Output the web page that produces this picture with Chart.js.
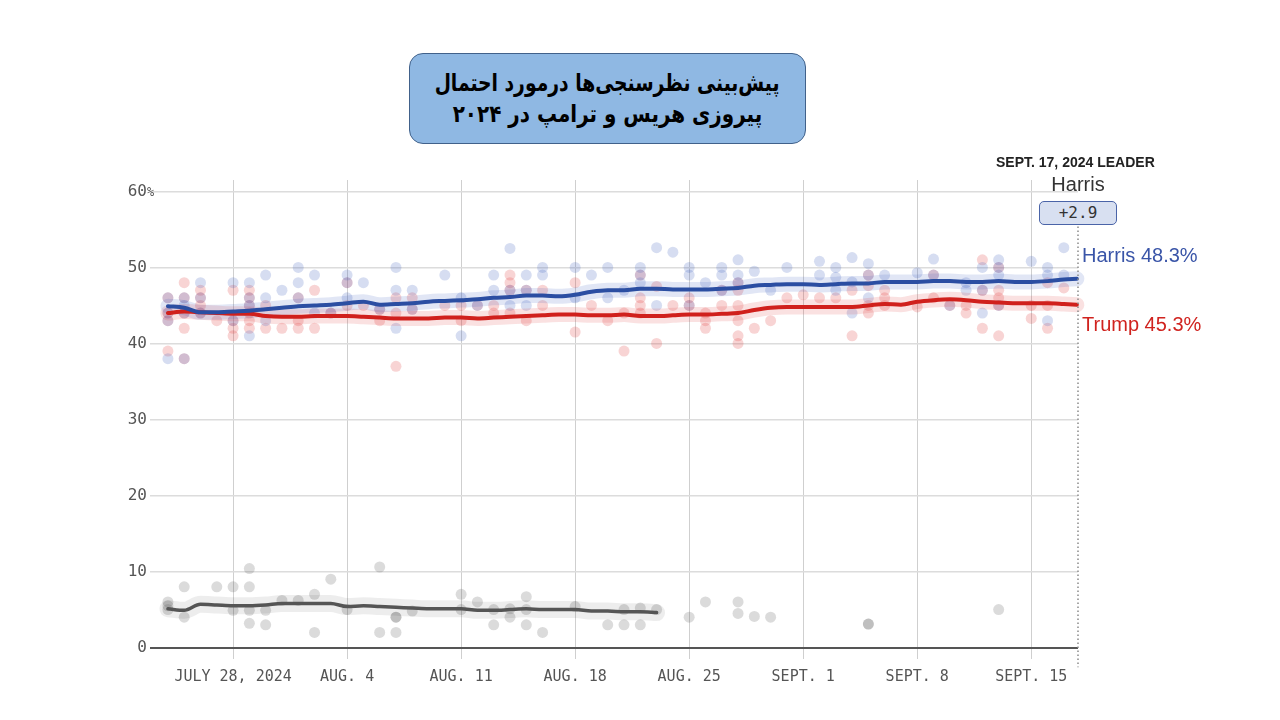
<!DOCTYPE html>
<html lang="fa">
<head>
<meta charset="UTF-8">
<title>Harris - Trump polls 2024</title>
<style>
  body { margin: 0; background: #fff; }
  #wrap { position: relative; width: 1280px; height: 720px; overflow: hidden; }
  #polls { position: absolute; left: 0; top: 0; }
  .title {
    position: absolute; left: 409px; top: 53px; width: 395px; height: 89px;
    background: #8fb8e3; border: 1.5px solid #41618a; border-radius: 14px;
    display: flex; flex-direction: column; justify-content: center; align-items: center;
    font-family: "DejaVu Sans", sans-serif; font-weight: bold; font-size: 24px;
    line-height: 31px; color: #000; text-align: center; white-space: nowrap;
  }
  .title .l1 { transform: scaleX(0.78); }
  .title .l2 { transform: scaleX(0.83); }
  .txt { position: absolute; white-space: nowrap; font-family: "Liberation Sans", Arial, sans-serif; }
  #leaderHead { left: 996px; top: 154px; font-size: 14px; font-weight: bold; color: #222; line-height: 16px; }
  #leaderName { left: 1078px; top: 173px; transform: translateX(-50%); font-size: 20px; color: #333; line-height: 22px; }
  #margin {
    position: absolute; left: 1039px; top: 201px; width: 76px; height: 22px;
    background: #d8e0f1; border: 1.5px solid #4a64a8; border-radius: 5px;
    font-family: "DejaVu Sans Mono", monospace; font-size: 16px; line-height: 22px;
    color: #333; text-align: center;
  }
  #harrisLbl { left: 1082px; top: 244px; font-size: 20px; color: #3a55a8; line-height: 22px; }
  #trumpLbl { left: 1082px; top: 313px; font-size: 20px; color: #d0231f; line-height: 22px; }
</style>
</head>
<body>
<div id="wrap">
  <canvas id="polls" width="1280" height="720"></canvas>
  <div class="title" dir="rtl"><div class="l1">پیش‌بینی نظرسنجی‌ها درمورد احتمال</div><div class="l2">پیروزی هریس و ترامپ در ۲۰۲۴</div></div>
  <div class="txt" id="leaderHead">SEPT. 17, 2024 LEADER</div>
  <div class="txt" id="leaderName">Harris</div>
  <div id="margin">+2.9</div>
  <div class="txt" id="harrisLbl">Harris 48.3%</div>
  <div class="txt" id="trumpLbl">Trump 45.3%</div>
</div>

<script src="https://cdn.jsdelivr.net/npm/chart.js@4.4.0/dist/chart.umd.min.js"></script>
<script>
// days counted from July 28, 2024 (day 0)
const tickDays = [0, 7, 14, 21, 28, 35, 42, 49];
const tickLabels = ["JULY 28, 2024", "AUG. 4", "AUG. 11", "AUG. 18", "AUG. 25", "SEPT. 1", "SEPT. 8", "SEPT. 15"];
const yTicks = [0, 10, 20, 30, 40, 50, 60];
const leaderDay = 51.87;

// individual polls: [day, value]
const harrisPolls = [
    [-4, 46], [-4, 44], [-4, 43], [-4, 38], [-3, 46], [-3, 45], [-3, 44], [-3, 38],
    [-2, 48], [-2, 46], [-2, 44], [0, 48], [0, 43], [1, 48], [1, 46], [1, 45], [1, 41],
    [2, 49], [2, 46], [2, 43], [3, 47], [4, 50], [4, 48], [4, 46], [5, 49], [5, 44], [6, 44],
    [7, 49], [7, 48], [7, 46], [8, 48], [9, 44.5], [10, 50], [10, 47], [10, 42], [11, 47], [11, 44.5],
    [13, 49], [14, 46], [14, 41], [15, 45], [16, 49], [16, 47], [17, 52.5], [17, 47], [17, 45],
    [18, 49], [18, 47], [18, 45], [19, 50], [19, 49], [21, 50], [21, 46], [22, 49], [23, 50], [23, 46],
    [24, 47], [25, 50], [25, 49], [25, 48], [26, 52.6], [26, 45], [27, 52], [28, 50], [28, 49], [28, 45],
    [29, 48], [30, 50], [30, 49], [30, 47], [31, 51], [31, 49], [31, 48], [32, 49.5], [33, 47], [34, 50],
    [36, 50.8], [36, 49], [37, 50], [37, 48.7], [37, 47], [38, 51.3], [38, 48.1], [38, 44],
    [39, 50.5], [39, 49], [39, 46], [40, 49], [42, 49.3], [43, 51.1], [43, 49], [44, 45], [45, 48], [45, 47],
    [46, 50], [46, 47], [46, 44], [47, 51], [47, 50], [47, 49], [47, 45], [49, 50.8],
    [50, 50], [50, 49], [50, 43], [51, 52.6], [51, 49]
];
const trumpPolls = [
    [-4, 46], [-4, 44], [-4, 43], [-4, 39], [-3, 48], [-3, 46], [-3, 44], [-3, 42], [-3, 38],
    [-2, 47], [-2, 46], [-2, 45], [-2, 44], [-1, 43], [0, 47], [0, 43], [0, 42], [0, 41],
    [1, 47], [1, 46], [1, 45], [1, 44], [1, 43], [1, 42], [2, 45], [2, 42], [3, 42], [4, 46], [4, 43], [4, 42],
    [5, 47], [5, 42], [6, 44], [7, 48], [7, 45], [8, 45], [9, 44.5], [9, 43], [10, 46], [10, 44], [10, 37],
    [11, 46], [11, 44.5], [13, 45], [14, 45], [14, 43], [15, 45], [16, 45], [16, 44],
    [17, 49], [17, 48], [17, 47], [17, 44], [18, 47], [18, 43], [19, 47], [19, 45], [21, 48], [21, 41.5],
    [22, 45], [23, 43], [24, 44], [24, 39], [25, 49], [25, 46], [25, 45], [25, 44], [26, 47.5], [26, 40],
    [27, 45], [28, 46], [28, 45], [29, 44], [29, 43], [29, 42], [30, 47], [30, 45],
    [31, 48], [31, 47], [31, 45], [31, 43], [31, 41], [31, 40], [32, 42], [33, 43], [34, 46], [35, 46.4],
    [36, 46], [37, 46], [38, 47], [38, 41], [39, 49], [39, 47.6], [39, 45], [39, 44], [40, 47], [40, 46], [40, 45],
    [42, 44.8], [43, 49], [43, 46], [44, 45], [45, 45], [45, 44], [46, 51], [46, 47], [46, 42],
    [47, 50], [47, 47], [47, 46], [47, 45], [47, 41], [49, 45], [49, 43.3], [50, 48], [50, 45], [50, 42], [51, 47.3]
];
const otherPolls = [
    [-4, 6], [-4, 5.5], [-4, 5], [-3, 8], [-3, 4], [-1, 8], [0, 8], [0, 4.9], [1, 10.4], [1, 8], [1, 4.9], [1, 3.2],
    [2, 4.9], [2, 3], [3, 6.2], [4, 6.2], [5, 7], [5, 2], [6, 9], [7, 5], [9, 10.6], [9, 2], [10, 4], [10, 4], [10, 2],
    [11, 4.8], [14, 7], [14, 5], [15, 6], [16, 5], [16, 3], [17, 5.1], [17, 4], [18, 6.7], [18, 5], [18, 3], [19, 2],
    [21, 5.4], [23, 3], [24, 5], [24, 3], [25, 5.2], [25, 3], [26, 5], [28, 4], [29, 6], [31, 6], [31, 4.5],
    [32, 4.1], [33, 4], [39, 3.1], [39, 3.1], [47, 5]
];

// polling averages
const trendDays = [-4, -3, -2, -1, 0, 1, 2, 3, 4, 5, 6, 7, 8, 9, 10, 11, 12, 13, 14, 15, 16, 17, 18, 19, 20,
    21, 22, 23, 24, 25, 26, 27, 28, 29, 30, 31, 32, 33, 34, 35, 36, 37, 38, 39, 40, 41, 42, 43, 44, 45, 46,
    47, 48, 49, 50, 51, 51.8];
const harrisTrend = [44.9, 44.7, 44.1, 44.1, 44.2, 44.3, 44.5, 44.7, 44.9, 45.0, 45.1, 45.3, 45.5, 45.1, 45.2,
    45.3, 45.5, 45.6, 45.7, 45.8, 46.0, 46.1, 46.3, 46.3, 46.2, 46.4, 46.8, 47.0, 47.0, 47.2, 47.2, 47.1, 47.1,
    47.1, 47.2, 47.3, 47.6, 47.7, 47.8, 47.8, 47.7, 47.8, 47.9, 47.9, 48.1, 48.1, 48.1, 48.2, 48.2, 48.1, 48.1,
    48.2, 48.1, 48.1, 48.2, 48.4, 48.5];
const trumpTrend = [44.0, 44.2, 44.1, 44.0, 43.9, 43.9, 43.6, 43.5, 43.5, 43.6, 43.6, 43.6, 43.5, 43.4, 43.3,
    43.3, 43.3, 43.4, 43.4, 43.3, 43.4, 43.5, 43.6, 43.7, 43.8, 43.8, 43.7, 43.7, 43.8, 43.6, 43.6, 43.7, 43.8,
    43.8, 43.9, 44.0, 44.4, 44.7, 44.8, 44.8, 44.8, 44.8, 44.8, 45.0, 45.2, 45.1, 45.5, 45.7, 45.8, 45.7, 45.5,
    45.4, 45.3, 45.3, 45.3, 45.2, 45.1];
const otherTrendDays = [-4, -3, -2, -1, 0, 1, 2, 3, 4, 5, 6, 7, 8, 9, 10, 11, 12, 13, 14, 15, 16, 17, 18, 19,
    20, 21, 22, 23, 24, 25, 26];
const otherTrend = [5.1, 4.9, 5.7, 5.6, 5.5, 5.5, 5.6, 5.8, 5.8, 5.8, 5.8, 5.4, 5.5, 5.4, 5.3, 5.2, 5.1, 5.1,
    5.1, 4.9, 4.9, 5.0, 5.1, 5.0, 5.0, 5.0, 4.8, 4.8, 4.7, 4.7, 4.6];

const pts = arr => arr.map(([x, y]) => ({ x, y }));
const zip = (xs, ys) => xs.map((x, i) => ({ x, y: ys[i] }));

function trendSet(data, color, width) {
    return {
        data, showLine: true, pointRadius: 0, borderColor: color, borderWidth: width,
        tension: 0.4, cubicInterpolationMode: "monotone", borderCapStyle: "round", clip: false,
    };
}
function pollSet(data, color) {
    return { data, pointRadius: 5.5, pointBorderWidth: 0, pointBackgroundColor: color, showLine: false, clip: false };
}

// dotted "today" line + the small % after the top tick
const extras = {
    id: "extras",
    afterDraw(chart) {
        const { ctx, scales: { x, y } } = chart;
        const px = x.getPixelForValue(leaderDay);
        ctx.save();
        ctx.strokeStyle = "#8a8a8a";
        ctx.lineWidth = 1.5;
        ctx.setLineDash([1.5, 2.5]);
        ctx.beginPath();
        ctx.moveTo(px, y.getPixelForValue(57.5));
        ctx.lineTo(px, y.getPixelForValue(-2.6));
        ctx.stroke();
        ctx.setLineDash([]);
        ctx.fillStyle = "#555";
        ctx.font = "12px 'DejaVu Sans Mono'";
        ctx.textAlign = "left";
        ctx.textBaseline = "middle";
        ctx.fillText("%", y.right - 3, y.getPixelForValue(60) + 1);
        ctx.restore();
    }
};

new Chart("polls", {
    type: "scatter",
    data: {
        datasets: [
            trendSet(zip(trendDays, harrisTrend), "#2b4ea2", 4),
            trendSet(zip(trendDays, trumpTrend), "#d0201c", 4),
            trendSet(zip(otherTrendDays, otherTrend), "#555555", 3.5),
            trendSet(zip(trendDays, harrisTrend), "rgba(70,100,190,0.16)", 15),
            trendSet(zip(trendDays, trumpTrend), "rgba(225,70,70,0.16)", 15),
            trendSet(zip(otherTrendDays, otherTrend), "rgba(0,0,0,0.07)", 17),
            pollSet(pts(harrisPolls), "rgba(70,100,190,0.22)"),
            pollSet(pts(trumpPolls), "rgba(225,60,60,0.22)"),
            pollSet(pts(otherPolls), "rgba(90,90,90,0.22)"),
        ],
    },
    options: {
        responsive: false,
        animation: false,
        layout: { padding: { left: 120, right: 202, top: 180, bottom: 31 } },
        plugins: { legend: { display: false }, tooltip: { enabled: false } },
        scales: {
            x: {
                type: "linear", min: -5.1, max: leaderDay,
                afterBuildTicks: axis => { axis.ticks = tickDays.map(value => ({ value })); },
                afterFit: axis => { axis.height = 30; },
                border: { display: false },
                grid: { color: "#cfcfcf", lineWidth: 1, drawTicks: false },
                ticks: {
                    autoSkip: false, maxRotation: 0, padding: 9, color: "#555",
                    font: { family: "DejaVu Sans Mono", size: 15 },
                    callback: value => tickLabels[tickDays.indexOf(value)],
                },
            },
            y: {
                min: -1.5, max: 61.5,
                afterBuildTicks: axis => { axis.ticks = yTicks.map(value => ({ value })); },
                afterFit: axis => { axis.width = 30; },
                border: { display: false },
                grid: {
                    drawTicks: false,
                    color: c => c.tick.value === 0 ? "#555" : "#dcdcdc",
                    lineWidth: c => c.tick.value === 0 ? 2 : 1.5,
                },
                ticks: {
                    crossAlign: "near", padding: 3, color: "#555",
                    font: { family: "DejaVu Sans Mono", size: 16 },
                },
            },
        },
    },
    plugins: [extras],
});
</script>
</body>
</html>
